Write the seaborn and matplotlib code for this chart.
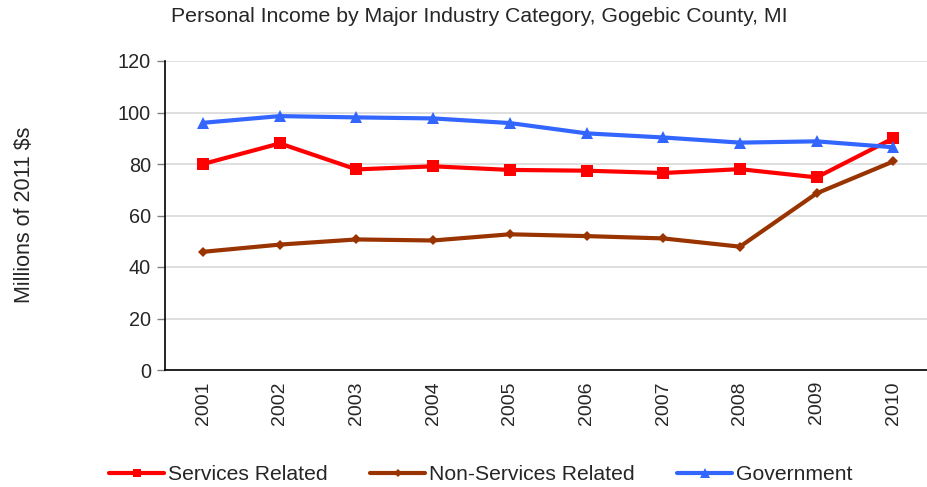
import matplotlib
matplotlib.use("Agg")
import matplotlib.pyplot as plt
import seaborn as sns
import pandas as pd

years = ["2001", "2002", "2003", "2004", "2005", "2006", "2007", "2008", "2009", "2010"]
services = [80.0, 88.0, 77.9, 79.1, 77.7, 77.4, 76.5, 78.0, 74.8, 90.0]
non_services = [45.9, 48.7, 50.7, 50.3, 52.7, 52.0, 51.1, 47.9, 68.6, 81.0]
government = [96.0, 98.6, 98.1, 97.7, 95.9, 91.9, 90.3, 88.3, 88.8, 86.5]

series_names = ["Services Related", "Non-Services Related", "Government"]
colors = {"Services Related": "#FF0000", "Non-Services Related": "#993300", "Government": "#3366FF"}
markers = {"Services Related": "s", "Non-Services Related": "D", "Government": "^"}
marker_sizes = {"Services Related": 8, "Non-Services Related": 5.5, "Government": 8.5}

df = pd.DataFrame({
    "year": years * 3,
    "value": services + non_services + government,
    "series": [s for s in series_names for _ in years],
})

sns.set_theme(style="white")
plt.rcParams["font.family"] = ["Liberation Sans", "DejaVu Sans"]

fig = plt.figure(figsize=(9.28, 4.87), dpi=100)
ax = fig.add_axes([164.7 / 928, 1 - 370 / 487, 767 / 928, 309 / 487])

sns.lineplot(data=df, x="year", y="value", hue="series", style="series",
             markers=markers, dashes=False, palette=colors, linewidth=3,
             markeredgewidth=0, ax=ax, legend=False, sort=False)
for line, name in zip(ax.lines, series_names):
    line.set_markersize(marker_sizes[name])

ax.set_xlim(-0.5, len(years) - 0.5)
ax.set_ylim(0, 120)
ax.set_yticks(range(0, 121, 20))
ax.yaxis.grid(True, color="#d9d9d9", linewidth=1.2)
ax.set_axisbelow(True)
ax.set_xlabel("")
ax.set_ylabel("")

# tick marks between categories, labels centered
ax.set_xticks(range(len(years)))
ax.set_xticklabels(years, rotation=90, fontsize=14)
ax.tick_params(axis="x", length=0, pad=8)
ax.set_xticks([i + 0.5 for i in range(len(years) - 1)], minor=True)
ax.tick_params(axis="x", which="minor", length=5, color="#808080", width=1)
ax.tick_params(axis="y", length=6, color="#808080", width=1, labelsize=14.3, pad=4, left=True)

for side in ["top", "right"]:
    ax.spines[side].set_visible(False)
ax.spines["left"].set_color("black")
ax.spines["bottom"].set_color("black")
ax.spines["left"].set_linewidth(1.2)
ax.spines["bottom"].set_linewidth(1.2)

fig.text(479 / 928, 1 - 17 / 487, "Personal Income by Major Industry Category, Gogebic County, MI",
         ha="center", va="center", fontsize=15.3)
fig.text(25 / 928, 1 - 215 / 487, "Millions of 2011 $s", rotation=90,
         ha="center", va="center", fontsize=15.5)

handles = [plt.Line2D([], [], color=colors[n], marker=markers[n], linewidth=3,
                      markersize=marker_sizes[n] * 0.8, markeredgewidth=0) for n in series_names]
fig.legend(handles, series_names, loc="center", bbox_to_anchor=(481 / 928, 1 - 475 / 487),
           ncol=3, frameon=False, fontsize=15.2, handlelength=2.6, handletextpad=0.2,
           columnspacing=2.0)

fig.savefig("out.png", dpi=100)
